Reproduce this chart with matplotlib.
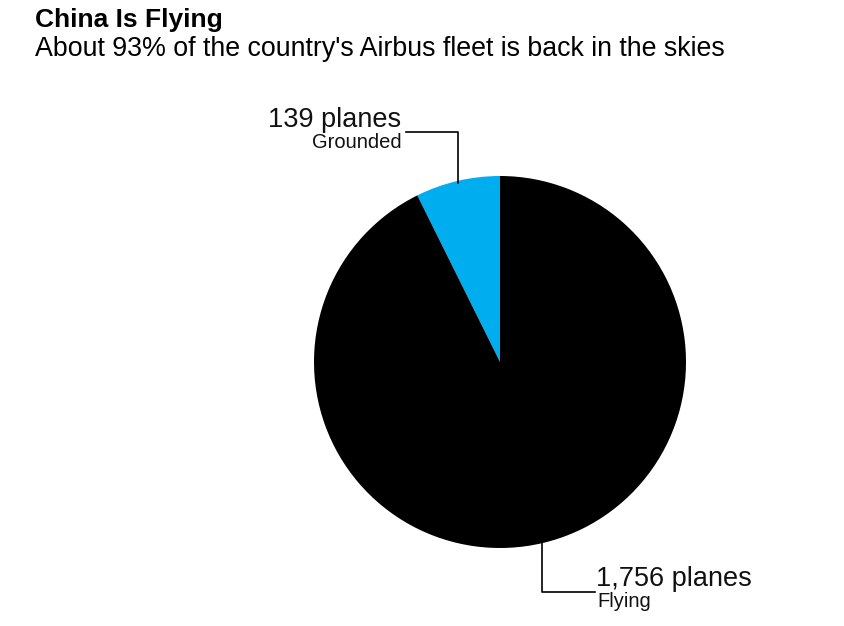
import numpy as np
import matplotlib.pyplot as plt

# data
labels = ["Grounded", "Flying"]
planes = [139, 1756]
colors = ["#00adef", "#000000"]

plt.rcParams['font.family'] = ['Liberation Sans', 'DejaVu Sans']

W, H = 845, 626
fig = plt.figure(figsize=(W / 100, H / 100), dpi=100)
ax = fig.add_axes([0, 0, 1, 1])

cx, cy, r = 500, H - 362, 186
wedges, _ = ax.pie(planes, colors=colors, startangle=90, counterclock=True,
                   center=(cx, cy), radius=r, frame=True)
ax.set_xlim(0, W)
ax.set_ylim(0, H)
ax.axis('off')

# leader lines from each wedge's middle angle
for i, w in enumerate(wedges):
    mid = np.deg2rad((w.theta1 + w.theta2) / 2)
    x0 = cx + r * np.cos(mid)
    y0 = cy + r * np.sin(mid)
    if i == 0:
        ytop = y0 + 49
        ax.plot([x0, x0, x0 - 52], [y0 - 2, ytop, ytop], color='black', lw=1.2)
        ax.text(x0 - 56, ytop + 5, f"{planes[i]} planes", ha='right', va='baseline',
                fontsize=19.5, color='#111111')
        ax.text(x0 - 56, ytop - 16, labels[i], ha='right', va='baseline',
                fontsize=14.5, color='#111111')
    else:
        ybot = y0 - 49
        ax.plot([x0, x0, x0 + 53], [y0 + 2, ybot, ybot], color='black', lw=1.2)
        ax.text(x0 + 54, ybot + 6, f"{planes[i]:,} planes", ha='left', va='baseline',
                fontsize=19.5, color='#111111')
        ax.text(x0 + 55, ybot - 15, labels[i], ha='left', va='baseline',
                fontsize=14.5, color='#111111')

fig.text(35 / W, 1 - 27 / H, "China Is Flying", ha='left', va='baseline',
         fontsize=19, fontweight='bold')
fig.text(35 / W, 1 - 56 / H, "About 93% of the country's Airbus fleet is back in the skies",
         ha='left', va='baseline', fontsize=19.3)

fig.savefig("out.png", dpi=100)
